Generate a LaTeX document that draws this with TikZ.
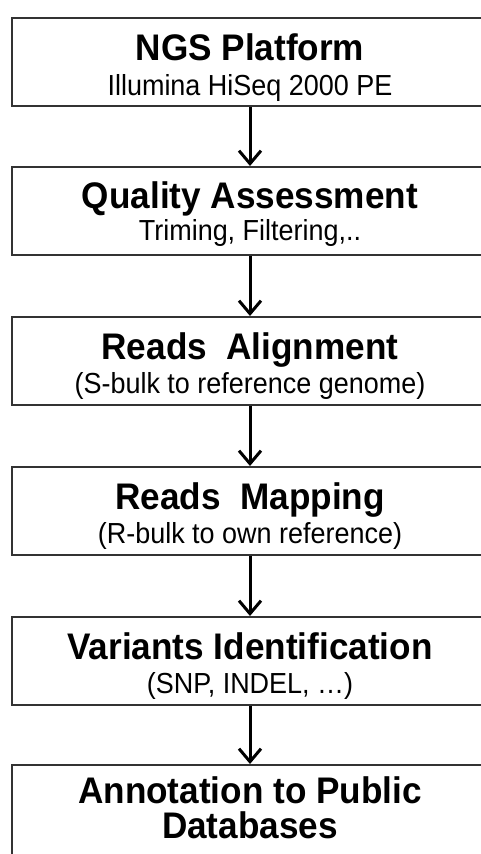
\documentclass[tikz,border=0pt]{standalone}
\usepackage{fontspec}
\setmainfont{Liberation Sans}
\newfontfamily\headfont[FakeStretch=0.95]{Liberation Sans}
\newfontfamily\notefont[FakeStretch=0.93]{Liberation Sans}
\usetikzlibrary{arrows.meta}
\tikzset{
  stage/.style={draw=black!80, line width=1.8pt, anchor=north,
    minimum width=476pt, minimum height=88pt, inner sep=0pt},
  stagetitle/.style={font=\headfont\fontsize{37}{34}\selectfont\bfseries, anchor=base, inner sep=0pt},
  stagenote/.style={font=\notefont\fontsize{29}{30}\selectfont, anchor=base, inner sep=0pt},
  flow/.style={line width=3pt, -{Straight Barb[length=13pt,width=22pt]}}
}
\begin{document}
\begin{tikzpicture}[x=1pt,y=1pt]
      \useasboundingbox (0,0) rectangle (481,-854);
      \fill[white] (0,0) rectangle (481,-854);
      \clip (0,0) rectangle (481,-854);
      \draw
        (250,-17) node[stage] (s1){}
        (250,-166) node[stage] (s2){}
        (250,-316) node[stage] (s3){}
        (250,-466) node[stage] (s4){}
        (250,-616) node[stage] (s5){}
        (250,-764) node[stage, minimum height=110pt] (s6){};
      \path
        ([yshift=-43pt]s1.north) node[stagetitle] (t1){NGS Platform}
        ([yshift=-78pt]s1.north) node[stagenote] (n1){Illumina HiSeq 2000 PE}
        ([yshift=-42pt]s2.north) node[stagetitle] (t2){Quality Assessment}
        ([yshift=-74pt]s2.north) node[stagenote] (n2){Triming, Filtering,..}
        ([yshift=-43pt]s3.north) node[stagetitle] (t3){Reads~~Alignment}
        ([yshift=-77pt]s3.north) node[stagenote] (n3){(S-bulk to reference genome)}
        ([yshift=-43pt]s4.north) node[stagetitle] (t4){Reads~~Mapping}
        ([yshift=-77pt]s4.north) node[stagenote] (n4){(R-bulk to own reference)}
        ([yshift=-43pt]s5.north) node[stagetitle] (t5){Variants Identification}
        ([yshift=-77pt]s5.north) node[stagenote] (n5){(SNP, INDEL, …)}
        ([yshift=-39pt]s6.north) node[stagetitle] (t6){Annotation to Public}
        ([yshift=-74pt]s6.north) node[stagetitle] (u6){Databases};
      \begin{scope}[flow]
        \draw (s1) to (s2);
        \draw (s2) to (s3);
        \draw (s3) to (s4);
        \draw (s4) to (s5);
        \draw (s5) to (s6);
      \end{scope}
    \end{tikzpicture}
\end{document}
